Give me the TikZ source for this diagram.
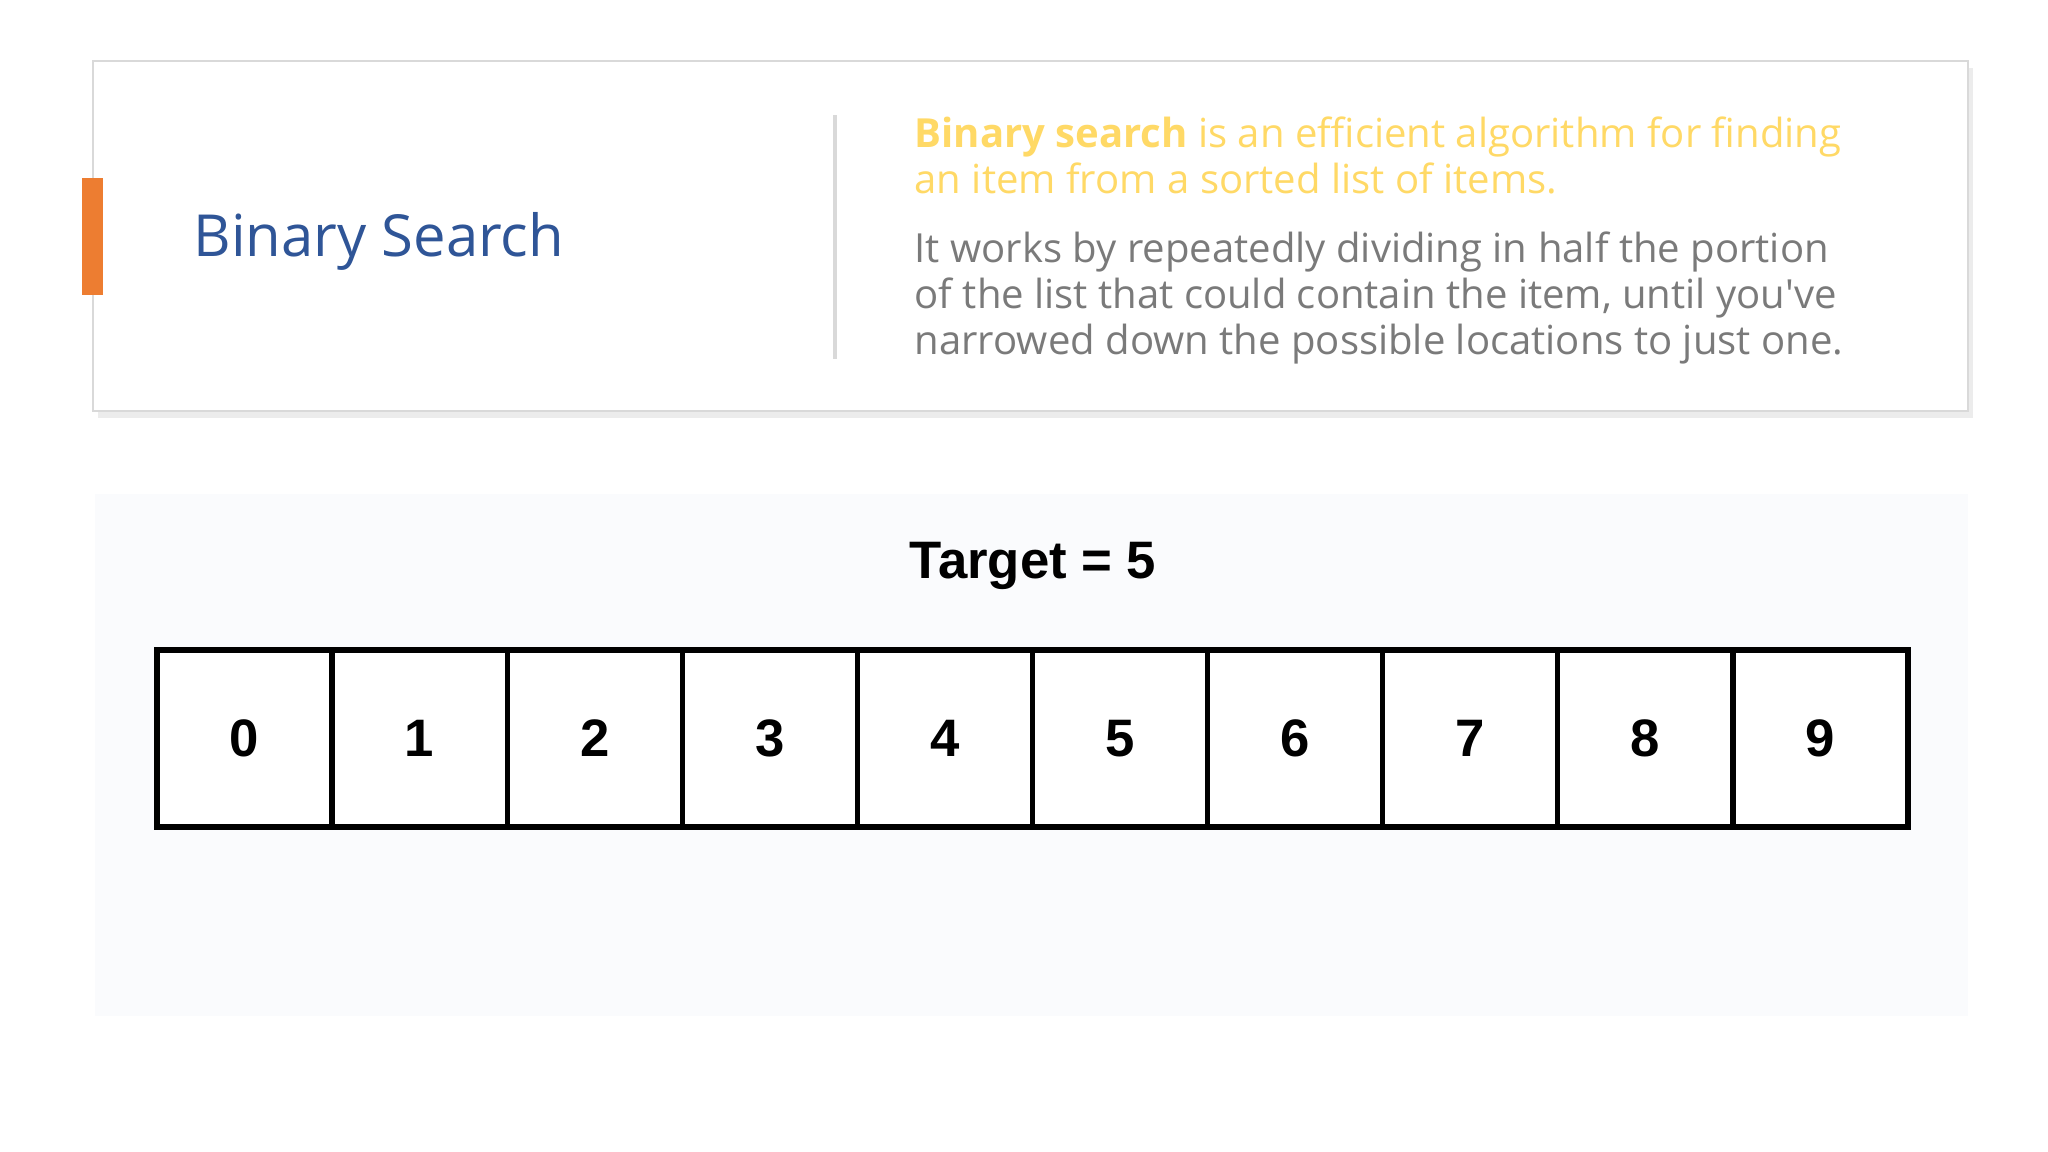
\documentclass[tikz,border=0pt]{standalone}
\usepackage{fontspec}
\setmainfont{Open Sans}
\newfontfamily\arialfont{Liberation Sans}
\usetikzlibrary{shadows}
\definecolor{titleblue}{HTML}{2F5597}
\definecolor{accentorange}{HTML}{ED7D31}
\definecolor{introyellow}{HTML}{FFD966}
\definecolor{bodygray}{HTML}{7A7A7A}
\definecolor{panelgray}{HTML}{FAFBFD}
\definecolor{cardline}{HTML}{D9D9D9}

\begin{document}
\begin{tikzpicture}[
 cell/.style={draw=black, line width=1.5pt, fill=white,
  minimum width=1.751cm, minimum height=1.77cm, inner sep=0pt,
  font=\arialfont\bfseries\fontsize{15}{18}\selectfont},
 paragraph/.style={anchor=north west, inner sep=0pt, align=left,
  font=\fontsize{11.4}{13.1}\selectfont}
]
 \useasboundingbox[fill=white] (0,0) rectangle (20.48,11.52);
 \fill[panelgray] (0.95,1.36) rectangle (19.68,6.58);
 \draw[cardline, fill=white,
  drop shadow={opacity=0.15, shadow xshift=0.05, shadow yshift=-0.07}]
 (0.93,7.41) rectangle (19.68,10.91);
 \fill[accentorange] (0.82,8.57) rectangle (1.03,9.74);
 \node[anchor=base west, inner sep=0pt, text=titleblue,
  font=\fontsize{16.5}{20}\selectfont] (title) at (1.93,8.95) {Binary Search};
 \draw[cardline, line width=1pt] (8.35,7.93) -- (8.35,10.37);
 \node[paragraph, text=introyellow] (intro) at (9.14,10.36)
 {\textbf{Binary search} is an efficient algorithm for finding\\
 an item from a sorted list of items.};
 \node[paragraph, text=bodygray] (body) at (9.14,9.21)
 {It works by repeatedly dividing in half the portion\\
 of the list that could contain the item, until you\textquotesingle ve\\
 narrowed down the possible locations to just one.};
 \node[font=\arialfont\bfseries\fontsize{15}{18}\selectfont] (target) at (10.33,5.86) {Target = 5};
 \foreach \i in {0,...,9}
  \node[cell] (c\i) at ({1.57+1.751*(\i+0.5)},4.135) {\i};
\end{tikzpicture}
\end{document}
